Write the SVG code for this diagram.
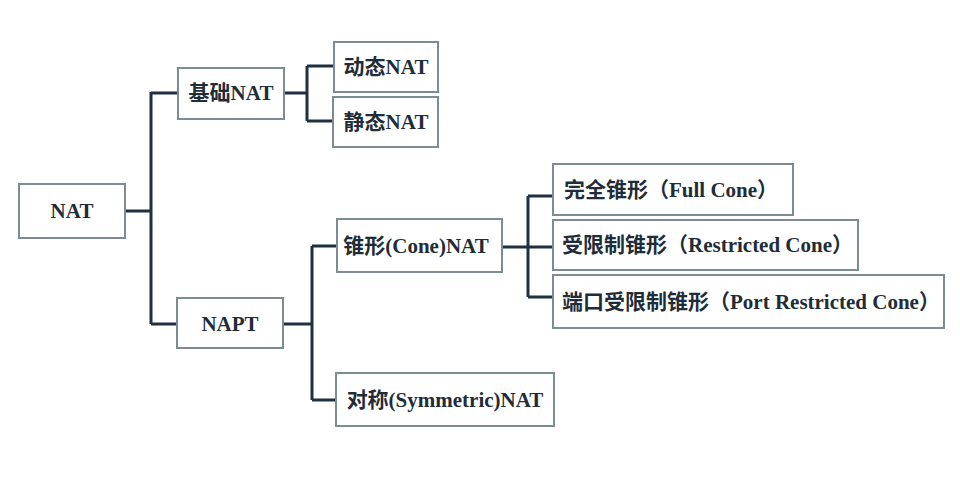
<svg xmlns="http://www.w3.org/2000/svg" width="960" height="490" viewBox="0 0 960 490">
<style>
.box{fill:#ffffff;stroke:#7d8c92;stroke-width:2}
.lbl{font-family:"Liberation Serif","Noto Sans CJK SC",serif;font-weight:bold;font-size:21px;fill:#1f2d38}
.c{text-anchor:middle}
.s{text-anchor:start}
.ln{fill:none;stroke:#1e3142;stroke-width:3;stroke-linejoin:miter}
</style>
<rect x="0" y="0" width="960" height="490" fill="#ffffff"/>
<g id="connectors">
<path class="ln" d="M125,211 H151 M151,92 V324 M151,93 H178 M151,324 H177"/>
<path class="ln" d="M284,93 H307 M307,66 V121 M307,66 H334 M307,121 H333"/>
<path class="ln" d="M283,324 H312 M312,246 V400 M312,246 H337 M312,400 H336"/>
<path class="ln" d="M502,247 H528 M528,196 V297 M528,196 H553 M528,247 H553 M528,297 H553"/>
</g>
<g id="n-nat">
<rect class="box" x="19" y="184" width="106" height="54"/>
<text class="lbl c" x="72" y="218">NAT</text>
</g>
<g id="n-basic">
<rect class="box" x="178" y="68" width="106" height="51"/>
<text class="lbl c" x="231" y="100">基础NAT</text>
</g>
<g id="n-dynamic">
<rect class="box" x="334" y="42" width="104" height="50"/>
<text class="lbl c" x="386" y="74">动态NAT</text>
</g>
<g id="n-static">
<rect class="box" x="333" y="97" width="105" height="50"/>
<text class="lbl c" x="386" y="129">静态NAT</text>
</g>
<g id="n-napt">
<rect class="box" x="177" y="298" width="106" height="50"/>
<text class="lbl c" x="230" y="331">NAPT</text>
</g>
<g id="n-cone">
<rect class="box" x="337" y="219" width="165" height="53"/>
<text class="lbl c" x="416" y="253">锥形(Cone)NAT</text>
</g>
<g id="n-symmetric">
<rect class="box" x="336" y="373" width="218" height="53"/>
<text class="lbl c" x="445" y="407">对称(Symmetric)NAT</text>
</g>
<g id="n-full">
<rect class="box" x="553" y="164" width="240" height="51"/>
<text class="lbl s" x="564" y="197">完全锥形（Full Cone）</text>
</g>
<g id="n-restricted">
<rect class="box" x="553" y="220" width="305" height="50"/>
<text class="lbl s" x="562" y="252">受限制锥形（Restricted Cone）</text>
</g>
<g id="n-port">
<rect class="box" x="553" y="275" width="391" height="53"/>
<text class="lbl s" x="562" y="309">端口受限制锥形（Port Restricted Cone）</text>
</g>
</svg>
